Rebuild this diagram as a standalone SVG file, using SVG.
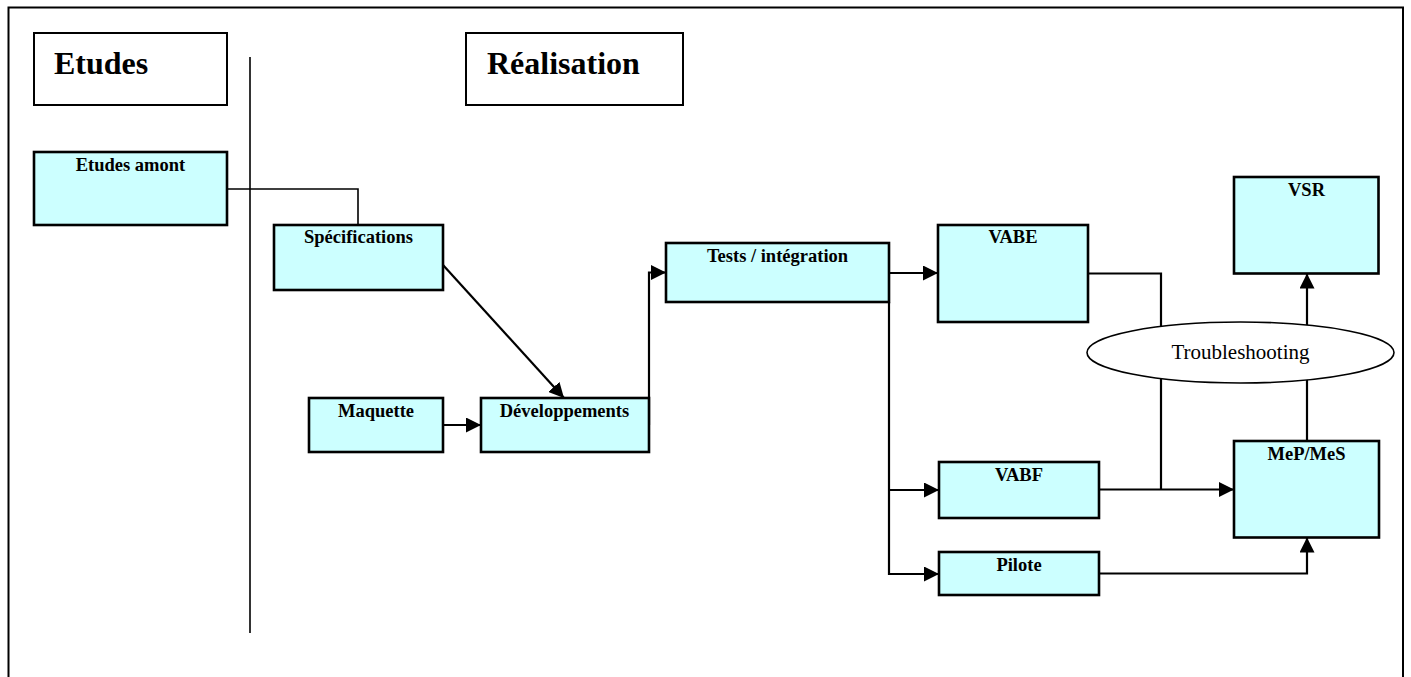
<svg xmlns="http://www.w3.org/2000/svg" width="1411" height="677" viewBox="0 0 1411 677">
<style>
.node{fill:#CCFFFF;stroke:#000;stroke-width:2.6}
.hdr{fill:#fff;stroke:#000;stroke-width:2}
.lbl{font-family:"Liberation Serif","Times New Roman",serif;font-weight:bold;font-size:18.5px;text-anchor:middle;fill:#000}
.big{font-family:"Liberation Serif","Times New Roman",serif;font-weight:bold;font-size:32px;fill:#000}
.conn{fill:none;stroke:#000;stroke-width:2.2}
.thin{fill:none;stroke:#000;stroke-width:1.6}
</style>
<defs>
<marker id="arr" viewBox="0 0 15 15" refX="15" refY="7.5" markerWidth="15" markerHeight="15" markerUnits="userSpaceOnUse" orient="auto">
<path d="M0,0 L15,7.5 L0,15 Z" fill="#000"/>
</marker>
</defs>
<rect x="0" y="0" width="1411" height="677" fill="#fff"/>
<rect x="8.5" y="7.5" width="1394.5" height="720" fill="none" stroke="#000" stroke-width="2"/>
<line x1="250" y1="57" x2="250" y2="633" stroke="#000" stroke-width="1.6"/>

<g id="hdr-etudes">
<rect class="hdr" x="34" y="33" width="193" height="72"/>
<text class="big" x="54" y="74">Etudes</text>
</g>
<g id="hdr-realisation">
<rect class="hdr" x="466" y="33" width="217" height="72"/>
<text class="big" x="487" y="74">Réalisation</text>
</g>

<g id="connectors">
<polyline class="thin" points="227,189 358,189 358,225"/>
<line class="conn" x1="443" y1="265" x2="564" y2="398" marker-end="url(#arr)"/>
<line class="conn" x1="443" y1="425" x2="481" y2="425" marker-end="url(#arr)"/>
<polyline class="conn" points="649,425 649,272.5 666,272.5" marker-end="url(#arr)"/>
<line class="conn" x1="889" y1="273" x2="938" y2="273" marker-end="url(#arr)"/>
<polyline class="conn" points="889,302 889,574 939,574" marker-end="url(#arr)"/>
<line class="conn" x1="889" y1="490" x2="939" y2="490" marker-end="url(#arr)"/>
<polyline class="conn" points="1088,273.5 1161,273.5 1161,489.5"/>
<line class="conn" x1="1099" y1="489.5" x2="1234" y2="489.5" marker-end="url(#arr)"/>
<polyline class="conn" points="1099,573.5 1307,573.5 1307,537.5" marker-end="url(#arr)"/>
<line class="conn" x1="1307" y1="441" x2="1307" y2="273.5" marker-end="url(#arr)"/>
</g>

<g id="etudes-amont">
<rect class="node" x="34" y="152" width="193" height="73"/>
<text class="lbl" x="130.5" y="171">Etudes amont</text>
</g>
<g id="specifications">
<rect class="node" x="274" y="225" width="169" height="65"/>
<text class="lbl" x="358.5" y="243">Spécifications</text>
</g>
<g id="maquette">
<rect class="node" x="309" y="398" width="134" height="54"/>
<text class="lbl" x="376" y="417">Maquette</text>
</g>
<g id="developpements">
<rect class="node" x="481" y="398" width="168" height="54"/>
<text class="lbl" x="564.5" y="417">Développements</text>
</g>
<g id="tests">
<rect class="node" x="666" y="243" width="223" height="59"/>
<text class="lbl" x="777.5" y="261.5">Tests / intégration</text>
</g>
<g id="vabe">
<rect class="node" x="938" y="225" width="150" height="97"/>
<text class="lbl" x="1013" y="243">VABE</text>
</g>
<g id="vsr">
<rect class="node" x="1234" y="177" width="144.5" height="96.5"/>
<text class="lbl" x="1306.5" y="195.5">VSR</text>
</g>
<g id="troubleshooting">
<ellipse cx="1240.5" cy="352.5" rx="153.5" ry="30.5" fill="#fff" stroke="#000" stroke-width="1.6"/>
<text x="1240.5" y="358.5" font-family="Liberation Serif, Times New Roman, serif" font-size="21px" text-anchor="middle" fill="#000">Troubleshooting</text>
</g>
<g id="mep-mes">
<rect class="node" x="1234" y="441" width="145" height="96.5"/>
<text class="lbl" x="1306.5" y="460">MeP/MeS</text>
</g>
<g id="vabf">
<rect class="node" x="939" y="462" width="160" height="56"/>
<text class="lbl" x="1019" y="480.5">VABF</text>
</g>
<g id="pilote">
<rect class="node" x="939" y="552" width="160" height="43"/>
<text class="lbl" x="1019" y="570.5">Pilote</text>
</g>
</svg>
